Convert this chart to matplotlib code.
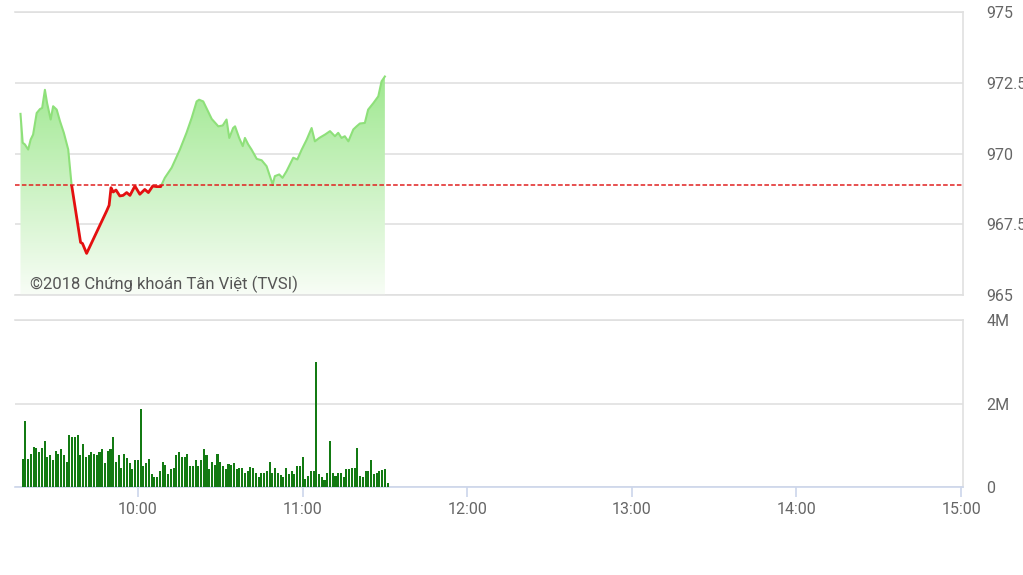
# VN-Index intraday chart (price + volume)
import numpy as np
import matplotlib
matplotlib.use("Agg")
import matplotlib.pyplot as plt
from matplotlib.patches import Polygon, Rectangle
from matplotlib.colors import LinearSegmentedColormap

# price: minutes after 9:00 and index value
price_min = [17.2, 18.0, 18.8, 20.0, 20.9, 21.8, 23.1, 24.3, 25.1, 26.1, 26.9, 28.2, 29.1,
             30.4, 31.6, 33.0, 34.6, 35.8, 39.1, 39.8, 41.3, 44.9, 48.6, 49.5, 50.2, 51.0,
             52.0, 53.4, 54.6, 55.9, 57.1, 58.9, 60.7, 62.5, 63.8, 65.4, 66.8, 68.3, 69.8,
             72.3, 75.3, 77.7, 79.6, 81.4, 82.3, 83.8, 85.0, 86.9, 89.3, 90.9, 92.3, 93.3,
             94.7, 95.4, 96.9, 98.2, 99.0, 100.2, 101.4, 103.3, 105.1, 106.9, 108.1, 109.1,
             109.9, 111.5, 112.7, 114.2, 116.6, 118.1, 119.7, 121.5, 123.3, 124.5, 126.1,
             128.2, 130.0, 131.8, 133.0, 134.2, 135.4, 136.7, 138.5, 139.7, 140.9, 142.7,
             143.9, 145.8, 147.6, 148.8, 150.0]
price = [971.40, 970.38, 970.32, 970.14, 970.49, 970.67, 971.43, 971.57, 971.61, 972.25,
         971.78, 971.20, 971.67, 971.55, 971.14, 970.73, 970.14, 968.91, 966.86, 966.82,
         966.47, 967.21, 967.97, 968.17, 968.79, 968.64, 968.71, 968.50, 968.52, 968.62,
         968.52, 968.85, 968.56, 968.73, 968.62, 968.85, 968.83, 968.83, 969.14, 969.50,
         970.14, 970.73, 971.26, 971.84, 971.90, 971.84, 971.60, 971.22, 970.96, 970.99,
         971.20, 970.55, 970.90, 970.96, 970.55, 970.26, 970.55, 970.32, 970.14, 969.81,
         969.76, 969.55, 969.20, 968.91, 969.20, 969.26, 969.14, 969.38, 969.85, 969.79,
         970.14, 970.49, 970.90, 970.43, 970.55, 970.67, 970.79, 970.61, 970.73, 970.55,
         970.61, 970.43, 970.85, 970.96, 971.06, 971.08, 971.55, 971.78, 972.02, 972.55,
         972.72]
ref_price = 968.88

# volume per bar, millions of shares
volume = [0.67, 1.58, 0.67, 0.79, 0.97, 0.93, 0.85, 0.93, 1.10, 0.73, 0.77, 0.65, 0.86,
          0.79, 0.91, 0.77, 0.61, 1.25, 1.19, 1.19, 1.25, 0.77, 1.02, 0.73, 0.77, 0.85,
          0.78, 0.77, 0.83, 0.91, 0.57, 0.86, 0.91, 1.19, 0.61, 0.77, 0.45, 0.78, 0.70,
          0.57, 0.43, 0.65, 0.65, 1.86, 0.50, 0.57, 0.67, 0.31, 0.23, 0.25, 0.39, 0.59,
          0.53, 0.31, 0.43, 0.45, 0.77, 0.83, 0.71, 0.71, 0.78, 0.50, 0.50, 0.65, 0.51,
          0.65, 0.91, 0.77, 0.43, 0.61, 0.53, 0.78, 0.59, 0.51, 0.43, 0.55, 0.53, 0.57,
          0.43, 0.45, 0.46, 0.33, 0.39, 0.49, 0.45, 0.33, 0.25, 0.33, 0.33, 0.39, 0.59,
          0.33, 0.45, 0.33, 0.29, 0.25, 0.45, 0.30, 0.39, 0.30, 0.50, 0.50, 0.71, 0.19,
          0.26, 0.38, 0.38, 2.99, 0.30, 0.25, 0.17, 0.33, 1.10, 0.33, 0.26, 0.33, 0.33,
          0.25, 0.43, 0.43, 0.45, 0.45, 0.93, 0.26, 0.25, 0.38, 0.38, 0.65, 0.31, 0.33,
          0.38, 0.41, 0.43, 0.09]
vol_min = np.linspace(18, 151, len(volume))

price_ticks = [965, 967.5, 970, 972.5, 975]
price_labels = ["965", "967.5", "970", "972.5", "975"]
vol_ticks = [0, 2, 4]
vol_labels = ["0", "2M", "4M"]
hour_ticks = [60, 120, 180, 240, 300, 360]
hour_labels = ["10:00", "11:00", "12:00", "13:00", "14:00", "15:00"]

plt.rcParams["font.family"] = ["Roboto", "DejaVu Sans"]
GRID = "#e0e0e0"
AXIS = "#ccd6eb"
TXT = "#666666"
XLIM = (15.2, 360.7)

fig = plt.figure(figsize=(10.23, 5.75), dpi=100)
ax = fig.add_axes([15 / 1023, 1 - 295 / 575, 948 / 1023, 283 / 575])
axv = fig.add_axes([15 / 1023, 1 - 487 / 575, 948 / 1023, 167 / 575])

t = np.array(price_min)
p = np.array(price)

# gradient area under the price line
verts = np.column_stack([np.r_[t, t[::-1]], np.r_[p, np.full_like(p, 965)]])
area = Polygon(verts, facecolor="none", edgecolor="none", transform=ax.transData)
ax.add_patch(area)
cmap = LinearSegmentedColormap.from_list("g", ["#f8fdf6", "#9fe890"])
grad = np.linspace(0, 1, 256).reshape(-1, 1)
im = ax.imshow(grad, extent=[t[0], t[-1], 965, p.max()], aspect="auto",
               cmap=cmap, origin="lower", zorder=1)
im.set_clip_path(area)

# green above reference, red below
up, = ax.plot(t, p, color="#8ee07a", lw=1.5, zorder=3)
up.set_clip_path(Rectangle((0, ref_price), 400, 20, transform=ax.transData))
dn, = ax.plot(t, p, color="#e41010", lw=2.0, zorder=3)
dn.set_clip_path(Rectangle((0, 955), 400, ref_price - 955, transform=ax.transData))
ax.axhline(ref_price, color="#e02020", lw=1.1, ls=(0, (3, 1.5)), zorder=4)

ax.text(0.016, 0.038, "©2018 Chứng khoán Tân Việt (TVSI)", fontsize=12,
        color="#555555", va="center", transform=ax.transAxes, zorder=5)

ax.set_xlim(*XLIM)
ax.set_ylim(965, 975)
ax.set_yticks(price_ticks)
ax.set_yticklabels(price_labels)
ax.yaxis.tick_right()
ax.tick_params(axis="y", length=0, pad=17, labelsize=11.5, labelcolor=TXT)
ax.set_xticks([])
ax.grid(axis="y", color=GRID, lw=1.2)
ax.set_axisbelow(True)
ax.spines["left"].set_visible(False)
for s in ["top", "bottom", "right"]:
    ax.spines[s].set_color(GRID)
    ax.spines[s].set_linewidth(1.2)

# volume bars
axv.bar(vol_min, volume, width=0.75, color="#137a13", zorder=3)
axv.set_xlim(*XLIM)
axv.set_ylim(0, 4)
axv.set_yticks(vol_ticks)
axv.set_yticklabels(vol_labels)
axv.yaxis.tick_right()
axv.tick_params(axis="y", length=0, pad=17, labelsize=11.5, labelcolor=TXT)
axv.set_xticks(hour_ticks)
axv.set_xticklabels(hour_labels)
axv.tick_params(axis="x", length=7, width=1.2, color=AXIS, pad=4,
                labelsize=11.5, labelcolor=TXT)
axv.grid(axis="y", color=GRID, lw=1.2)
axv.set_axisbelow(True)
axv.spines["left"].set_visible(False)
for s in ["top", "right"]:
    axv.spines[s].set_color(GRID)
    axv.spines[s].set_linewidth(1.2)
axv.spines["bottom"].set_color(AXIS)
axv.spines["bottom"].set_linewidth(1.2)

fig.savefig("out.png", dpi=100)
